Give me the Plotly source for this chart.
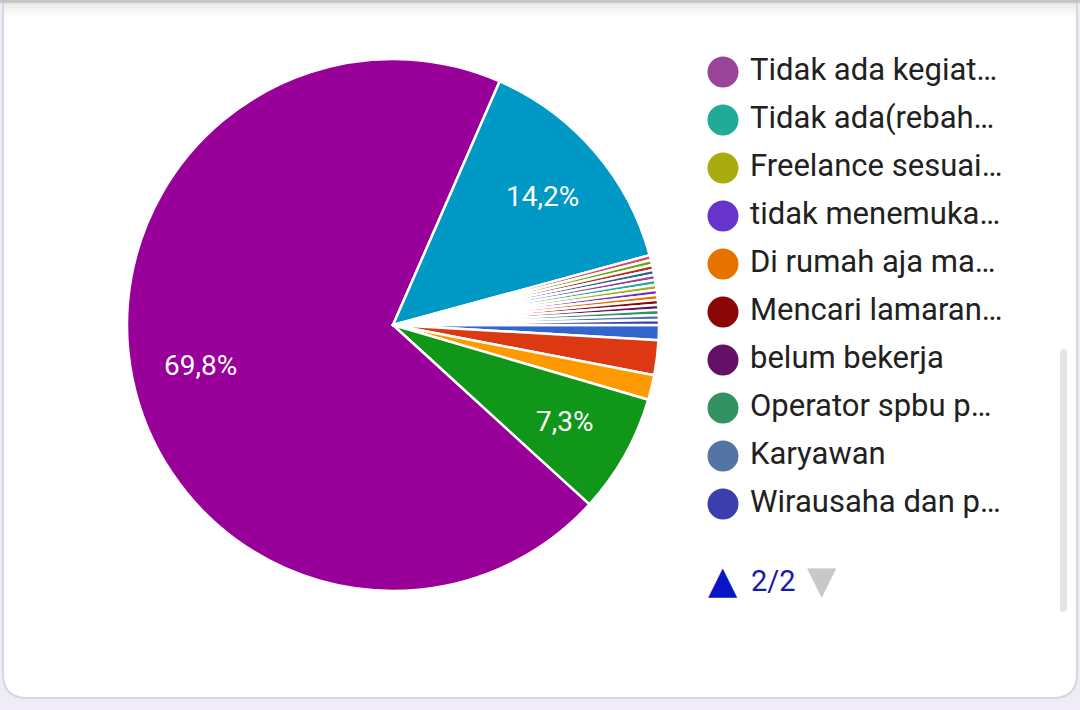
import math
import plotly.graph_objects as go

# ---- data (responses per answer, in Google Forms slice order) ----
slice_labels = [
    "Jawaban 1", "Jawaban 2", "Jawaban 3", "Jawaban 4",
    "Tidak ada kegiatan (utama)", "Jawaban 6", "Jawaban 7", "Jawaban 8",
    "Jawaban 9", "Jawaban 10",
    "Tidak ada kegiat…", "Tidak ada(rebah…", "Freelance sesuai…",
    "tidak menemuka…", "Di rumah aja ma…", "Mencari lamaran…",
    "belum bekerja", "Operator spbu p…", "Karyawan", "Wirausaha dan p…",
]
slice_values = [3, 7, 5, 24, 231, 47, 1, 1, 1, 1, 1, 1, 1, 1, 1, 1, 1, 1, 1, 1]
slice_colors = [
    "#3366cc", "#dc3912", "#ff9900", "#109618", "#990099", "#0099c6",
    "#dd4477", "#66aa00", "#b82e2e", "#316395", "#994499", "#22aa99",
    "#aaaa11", "#6633cc", "#e67300", "#8b0707", "#651067", "#329262",
    "#5574a6", "#3b3eac",
]
# legend page 2/2 (items 11-20)
legend_labels = slice_labels[10:]
legend_colors = slice_colors[10:]
page_text = "2/2"

total = sum(slice_values)

W, H = 1080, 710
cx, cy, r = 393, 325, 266
start_deg = 90  # first slice starts at 3 o'clock, going clockwise

fig = go.Figure()
fig.add_trace(go.Pie(
    labels=list(range(len(slice_values))),
    values=slice_values,
    textinfo="none",
    marker=dict(colors=slice_colors, line=dict(color="white", width=2.5)),
    sort=False,
    direction="clockwise",
    rotation=start_deg,
    showlegend=False,
    hoverinfo="skip",
    domain=dict(x=[(cx - r) / W, (cx + r) / W], y=[(H - cy - r) / H, (H - cy + r) / H]),
))

# percentage labels placed along each big slice's mid-angle
annotations = []
cum = 0
for v in slice_values:
    frac = v / total
    if frac > 0.05:
        mid = math.radians(start_deg + (cum + v / 2) / total * 360)
        annotations.append(dict(
            x=cx + 0.74 * r * math.sin(mid), y=cy - 0.74 * r * math.cos(mid),
            xref="x", yref="y", showarrow=False,
            text=f"{frac * 100:.1f}%".replace(".", ","),
            font=dict(family="Roboto", size=28, color="white"),
        ))
    cum += v

# manual legend (page 2)
ly0, dy = 72, 48.0
ys = [ly0 + i * dy for i in range(len(legend_labels))]
fig.add_trace(go.Scatter(
    x=[723] * len(ys), y=ys, mode="markers",
    marker=dict(size=31, color=legend_colors, line=dict(width=0)),
    hoverinfo="skip", showlegend=False,
))
fig.add_trace(go.Scatter(
    x=[750] * len(ys), y=ys, mode="text", text=legend_labels,
    textposition="middle right",
    textfont=dict(family="Roboto", size=31, color="#212121"),
    hoverinfo="skip", showlegend=False,
))

shapes = []
rr = 24
x0, y0, x1, y1 = 3, 4, 1077, 698
path = (f"M{x0},{y0} L{x1},{y0} L{x1},{y1 - rr} Q{x1},{y1} {x1 - rr},{y1} "
        f"L{x0 + rr},{y1} Q{x0},{y1} {x0},{y1 - rr} Z")
shapes.append(dict(type="path", path=path, xref="x", yref="y", layer="below",
                   fillcolor="white", line=dict(color="#d6d6dc", width=2)))
shapes.append(dict(type="rect", xref="x", yref="y", x0=0, x1=W, y0=0, y1=3,
                   fillcolor="#c6c6c6", line=dict(width=0), layer="below"))
for i, c in enumerate(["#e6e6e6", "#eeeeee", "#f3f3f3", "#f7f7f7", "#fafafa"]):
    shapes.append(dict(type="rect", xref="x", yref="y", x0=4, x1=1076,
                       y0=3 + i * 2.5, y1=5.5 + i * 2.5,
                       fillcolor=c, line=dict(width=0), layer="below"))
shapes.append(dict(type="path", xref="x", yref="y", layer="below",
                   path="M1060,353 Q1060,349 1063.5,349 Q1067,349 1067,353 L1067,608 "
                        "Q1067,612 1063.5,612 Q1060,612 1060,608 Z",
                   fillcolor="#e4e4e4", line=dict(width=0)))

annotations += [
    dict(x=723, y=580, xref="x", yref="y", text="▲", showarrow=False,
         font=dict(family="DejaVu Sans", size=38, color="#0a14c8")),
    dict(x=773, y=581, xref="x", yref="y", text=page_text, showarrow=False,
         font=dict(family="Roboto", size=29, color="#1a1aa8")),
    dict(x=822, y=580, xref="x", yref="y", text="▼", showarrow=False,
         font=dict(family="DejaVu Sans", size=38, color="#c8c8c8")),
]

fig.update_layout(
    width=W, height=H,
    margin=dict(l=0, r=0, t=0, b=0),
    paper_bgcolor="#efecf8",
    plot_bgcolor="rgba(0,0,0,0)",
    xaxis=dict(range=[0, W], visible=False, fixedrange=True),
    yaxis=dict(range=[H, 0], visible=False, fixedrange=True),
    shapes=shapes,
    annotations=annotations,
    showlegend=False,
)

fig.write_html("out.html", config={"displayModeBar": False},
               post_script="document.body.style.margin='0px';")
